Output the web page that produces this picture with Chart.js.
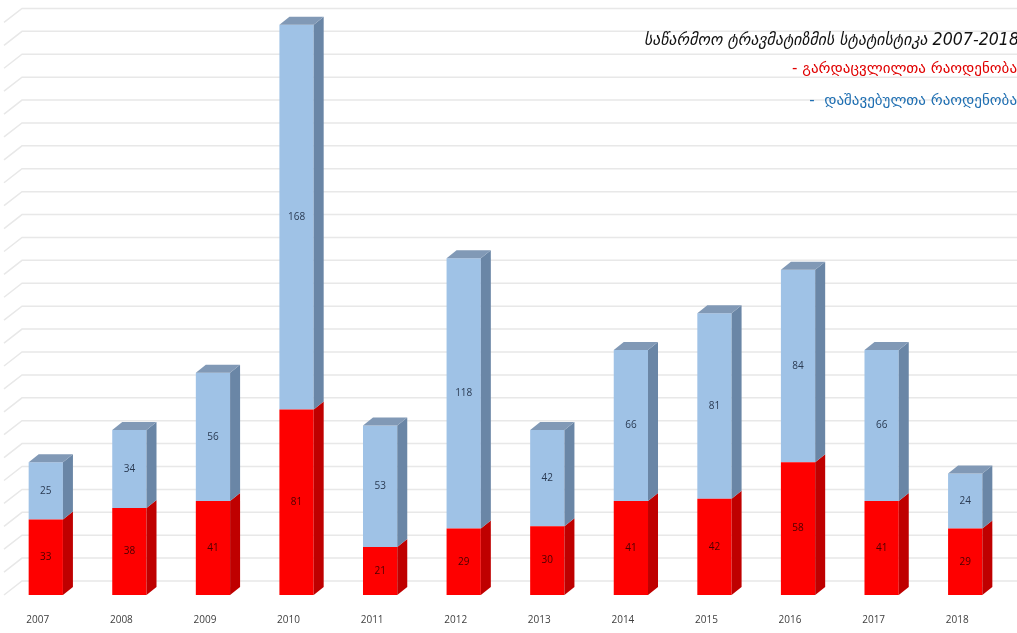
<!DOCTYPE html>
<html>
<head>
<meta charset="utf-8">
<script src="https://cdn.jsdelivr.net/npm/chart.js@4.4.1/dist/chart.umd.min.js"></script>
<style>
  html, body { margin: 0; padding: 0; background: #fff; }
  #wrap { width: 1017px; height: 633px; position: relative; }
</style>
</head>
<body>
<div id="wrap"><canvas id="myChart"></canvas></div>
<script>
const years = ['2007', '2008', '2009', '2010', '2011', '2012', '2013', '2014', '2015', '2016', '2017', '2018'];
const deaths = [33, 38, 41, 81, 21, 29, 30, 41, 42, 58, 41, 29];
const injured = [25, 34, 56, 168, 53, 118, 42, 66, 81, 84, 66, 24];

const chartTitle = 'საწარმოო ტრავმატიზმის სტატისტიკა 2007-2018';
const deathsLabel = 'გარდაცვლილთა რაოდენობა';
const injuredLabel = 'დაშავებულთა რაოდენობა';

// fake 3d depth of the bars and of the back wall
const barDepth = { dx: 10, dy: 8 };
const wallDepth = { dx: 18, dy: 14 };

function poly(ctx, pts, color) {
    ctx.beginPath();
    ctx.moveTo(pts[0][0], pts[0][1]);
    for (let i = 1; i < pts.length; i++) ctx.lineTo(pts[i][0], pts[i][1]);
    ctx.closePath();
    ctx.fillStyle = color;
    ctx.fill();
}

// back wall grid lines, shifted back like an excel 3d chart
const wallGrid = {
    id: 'wallGrid',
    beforeDatasetsDraw(chart) {
        const ctx = chart.ctx;
        const y = chart.scales.y;
        const area = chart.chartArea;
        ctx.save();
        ctx.strokeStyle = '#e8e8e8';
        ctx.lineWidth = 1.5;
        y.ticks.forEach(t => {
            if (t.value % 10 !== 0) return;
            const y0 = y.getPixelForValue(t.value);
            const yb = y0 - wallDepth.dy;
            ctx.beginPath();
            ctx.moveTo(area.left, y0);
            ctx.lineTo(area.left + wallDepth.dx, yb);
            ctx.lineTo(area.right + 10, yb);
            ctx.stroke();
        });
        ctx.restore();
    }
};

const bars3d = {
    id: 'bars3d',
    afterDatasetsDraw(chart) {
        const ctx = chart.ctx;
        const sets = chart.data.datasets;
        ctx.save();
        sets.forEach((ds, i) => {
            const meta = chart.getDatasetMeta(i);
            meta.data.forEach(bar => {
                const r = bar.x + bar.width / 2;
                const l = bar.x - bar.width / 2;
                poly(ctx, [
                    [r, bar.y], [r + barDepth.dx, bar.y - barDepth.dy],
                    [r + barDepth.dx, bar.base - barDepth.dy], [r, bar.base]
                ], ds.sideColor);
                if (i === sets.length - 1) {
                    poly(ctx, [
                        [l, bar.y], [l + barDepth.dx, bar.y - barDepth.dy],
                        [r + barDepth.dx, bar.y - barDepth.dy], [r, bar.y]
                    ], ds.topColor);
                }
            });
        });
        // value labels in the middle of each segment
        ctx.font = '10px "Open Sans"';
        ctx.textAlign = 'center';
        ctx.textBaseline = 'middle';
        sets.forEach((ds, i) => {
            const meta = chart.getDatasetMeta(i);
            meta.data.forEach((bar, j) => {
                ctx.fillStyle = ds.labelColor;
                ctx.fillText(ds.data[j], bar.x, (bar.y + bar.base) / 2);
            });
        });
        ctx.restore();
    }
};

const titleBlock = {
    id: 'titleBlock',
    afterDraw(chart) {
        const ctx = chart.ctx;
        const sets = chart.data.datasets;
        ctx.save();
        ctx.textAlign = 'right';
        ctx.textBaseline = 'middle';
        ctx.fillStyle = '#111';
        ctx.font = 'italic 17px "DejaVu Sans"';
        ctx.fillText(chartTitle, 1019, 41, 375);
        ctx.font = '15px "DejaVu Sans"';
        ctx.fillStyle = sets[0].legendColor;
        ctx.fillText('- ' + sets[0].label, 1017, 69, 255);
        ctx.fillStyle = sets[1].legendColor;
        ctx.fillText('-  ' + sets[1].label, 1017, 101, 240);
        ctx.restore();
    }
};

const ctx = document.getElementById('myChart').getContext('2d');
new Chart(ctx, {
    type: 'bar',
    data: {
        labels: years,
        datasets: [
            {
                label: deathsLabel,
                data: deaths,
                backgroundColor: '#fe0000',
                sideColor: '#bf0000',
                topColor: '#d00000',
                labelColor: '#4a0000',
                legendColor: '#e00000',
                barPercentage: 0.41,
                categoryPercentage: 1
            },
            {
                label: injuredLabel,
                data: injured,
                backgroundColor: '#9fc2e6',
                sideColor: '#6a86a6',
                topColor: '#8199b6',
                labelColor: '#2a3a52',
                legendColor: '#1f6fb2',
                barPercentage: 0.41,
                categoryPercentage: 1
            }
        ]
    },
    options: {
        responsive: true,
        maintainAspectRatio: false,
        animation: false,
        layout: { padding: { top: 11, left: 4, right: 10, bottom: 0 } },
        plugins: {
            legend: { display: false },
            tooltip: { enabled: false }
        },
        scales: {
            x: {
                stacked: true,
                grid: { display: false, drawTicks: false },
                border: { display: false },
                ticks: { color: '#404040', font: { size: 10, family: 'Open Sans' }, padding: 19, labelOffset: -8 },
                afterFit: s => { s.height = 38; }
            },
            y: {
                stacked: true,
                display: false,
                min: 0,
                max: 255,
                ticks: { stepSize: 10, includeBounds: false }
            }
        }
    },
    plugins: [wallGrid, bars3d, titleBlock]
});
</script>
</body>
</html>
